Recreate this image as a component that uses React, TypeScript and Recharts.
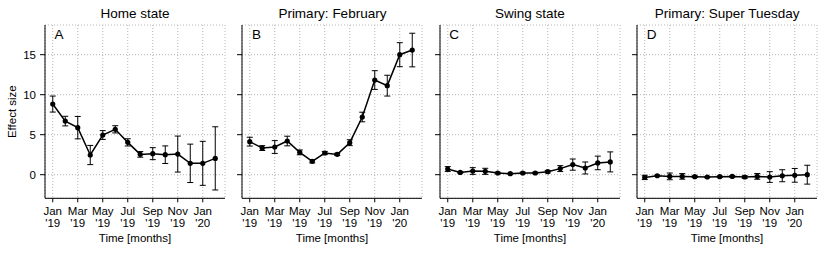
import React from "react";
import {
  LineChart,
  Line,
  XAxis,
  YAxis,
  CartesianGrid,
  ErrorBar,
  Label,
} from "recharts";

// months Jan '19 .. Feb '20, x = month index
const monthIndex = [0, 1, 2, 3, 4, 5, 6, 7, 8, 9, 10, 11, 12, 13];
const xTicks = [0, 2, 4, 6, 8, 10, 12];
const tickMonths = ["Jan", "Mar", "May", "Jul", "Sep", "Nov", "Jan"];
const tickYears = ["'19", "'19", "'19", "'19", "'19", "'19", "'20"];
const yTicks = [0, 5, 10, 15];

const homeState = [8.83, 6.7, 5.88, 2.46, 4.96, 5.67, 4.04, 2.54, 2.63, 2.5, 2.58, 1.42, 1.42, 2.04];
const homeStateErr = [1.0, 0.6, 1.4, 1.2, 0.55, 0.45, 0.45, 0.35, 0.75, 1.1, 2.25, 2.4, 2.75, 3.95];

const primaryFeb = [4.13, 3.33, 3.46, 4.21, 2.79, 1.67, 2.71, 2.54, 4.0, 7.21, 11.83, 11.13, 15.0, 15.58];
const primaryFebErr = [0.55, 0.3, 0.8, 0.6, 0.3, 0.2, 0.2, 0.15, 0.37, 0.6, 1.17, 1.3, 1.5, 2.1];

const swingState = [0.71, 0.29, 0.46, 0.42, 0.21, 0.13, 0.21, 0.21, 0.38, 0.76, 1.26, 0.84, 1.47, 1.6];
const swingStateErr = [0.3, 0.1, 0.42, 0.38, 0.1, 0.05, 0.1, 0.1, 0.15, 0.37, 0.7, 0.75, 0.85, 1.25];

const superTuesday = [-0.34, -0.13, -0.21, -0.21, -0.25, -0.29, -0.25, -0.21, -0.29, -0.21, -0.29, -0.13, -0.08, 0];
const superTuesdayErr = [0.27, 0.08, 0.42, 0.35, 0.1, 0.08, 0.08, 0.08, 0.15, 0.36, 0.67, 0.75, 0.86, 1.18];

const FONT = "'Liberation Sans', Arial, Helvetica, sans-serif";

const toRows = (vals: number[], errs: number[]) =>
  monthIndex.map((m, i) => ({ x: m, value: vals[i], err: errs[i] }));

const panels = [
  { title: "Home state", letter: "A", rows: toRows(homeState, homeStateErr), axisX: 45 },
  { title: "Primary: February", letter: "B", rows: toRows(primaryFeb, primaryFebErr), axisX: 242.4 },
  { title: "Swing state", letter: "C", rows: toRows(swingState, swingStateErr), axisX: 439.8 },
  { title: "Primary: Super Tuesday", letter: "D", rows: toRows(superTuesday, superTuesdayErr), axisX: 637.2 },
];

const MonthTick = (props: any) => {
  const { x, y, payload } = props;
  const i = xTicks.indexOf(payload.value);
  return (
    <text x={x} y={y} textAnchor="middle" fontSize={11.5} fontFamily={FONT} fill="#000">
      <tspan x={x} dy={11.5}>{tickMonths[i]}</tspan>
      <tspan x={x} dy={12}>{tickYears[i]}</tspan>
    </text>
  );
};

const YTitle = (props: any) => {
  const { viewBox } = props;
  const cx = 12.5;
  const cy = viewBox.y + viewBox.height / 2;
  return (
    <text
      x={cx}
      y={cy}
      transform={`rotate(-90 ${cx} ${cy})`}
      textAnchor="middle"
      dominantBaseline="central"
      fontSize={11.5}
      fontFamily={FONT}
      fill="#000"
    >
      Effect size
    </text>
  );
};

const CHART_W = 230;
const CHART_H = 253;

function Panel({ p, first }: { p: (typeof panels)[number]; first: boolean }) {
  const left = p.axisX - 45;
  return (
    <>
      <div style={{ position: "absolute", left, top: 0 }}>
        <LineChart
          width={CHART_W}
          height={CHART_H}
          data={p.rows}
          margin={{ top: 25, right: 5, bottom: 0, left: 0 }}
        >
          <CartesianGrid stroke="#b5b5b5" strokeDasharray="1 2" />
          <XAxis
            dataKey="x"
            type="number"
            domain={[-0.62, 13.78]}
            allowDataOverflow
            ticks={xTicks}
            tick={<MonthTick />}
            tickSize={4}
            tickMargin={1}
            height={54.7}
            stroke="#000"
            interval={0}
          >
            <Label
              value="Time [months]"
              position="insideBottom"
              offset={11}
              style={{ fontSize: 11.5, fontFamily: FONT, fill: "#000" }}
            />
          </XAxis>
          <YAxis
            type="number"
            domain={[-2.95, 18.71]}
            allowDataOverflow
            ticks={yTicks}
            width={45}
            tickSize={5}
            tickMargin={4}
            stroke="#000"
            tick={{ fontSize: 11.5, fontFamily: FONT, fill: "#000" }}
            tickFormatter={first ? (v: number) => String(v) : () => ""}
          >
            {first ? <Label content={<YTitle />} /> : null}
          </YAxis>
          <Line
            type="linear"
            dataKey="value"
            stroke="#000"
            strokeWidth={1.5}
            dot={{ r: 2.6, fill: "#000", stroke: "#000", strokeWidth: 0 }}
            isAnimationActive={false}
          >
            <ErrorBar dataKey="err" width={3} stroke="#000" strokeWidth={1} direction="y" />
          </Line>
        </LineChart>
      </div>
      <div
        style={{
          position: "absolute",
          left: p.axisX,
          width: 180,
          top: 6.9,
          textAlign: "center",
          fontFamily: FONT,
          fontSize: 13.5,
          lineHeight: 1,
          whiteSpace: "nowrap",
        }}
      >
        {p.title}
      </div>
      <div
        style={{
          position: "absolute",
          left: p.axisX + 9.5,
          top: 27.5,
          fontFamily: FONT,
          fontSize: 13.5,
          lineHeight: 1,
        }}
      >
        {p.letter}
      </div>
    </>
  );
}

export default function App() {
  return (
    <div
      style={{
        position: "absolute",
        left: 0,
        top: 0,
        width: 830,
        height: 253,
        background: "#fff",
        overflow: "hidden",
      }}
    >
      {panels.map((p, i) => (
        <Panel key={p.letter} p={p} first={i === 0} />
      ))}
    </div>
  );
}
